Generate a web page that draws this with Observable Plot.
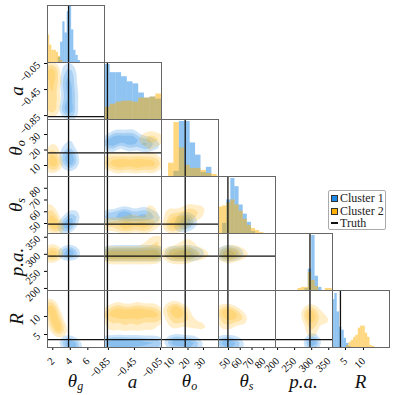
<!DOCTYPE html>
<html><head><meta charset="utf-8">
<script src="https://cdn.jsdelivr.net/npm/d3@7"></script>
<script src="https://cdn.jsdelivr.net/npm/@observablehq/plot@0.6"></script>
<style>
body{margin:0;background:#fff;}
#root{position:relative;width:395px;height:395px;overflow:hidden;}
.p{position:absolute;}
.p svg{overflow:visible;background:none;}
.lab{position:absolute;font-style:italic;font-size:19px;font-family:"Liberation Serif","DejaVu Serif",serif;color:#111;white-space:nowrap;line-height:1;}
.lab sub{font-size:12px;vertical-align:-3px;}
#legend{position:absolute;left:328px;top:190px;width:58px;height:40px;border:1px solid #aaa;border-radius:2px;font-family:"Liberation Serif",serif;font-size:12px;color:#222;box-sizing:border-box;padding:1px 0 0 2px;background:#fff;}
#legend div{height:12.5px;line-height:12.5px;white-space:nowrap;}
#legend span.sw{display:inline-block;width:7px;height:7px;border:1px solid #333;margin-right:2px;vertical-align:0px;box-sizing:border-box;}
#legend span.ln{display:inline-block;width:7px;height:2px;background:#111;margin-right:2px;vertical-align:3px;}
</style></head><body><div id="root"></div>
<script>
// parameters (columns / rows of the corner plot)
const paramLabels = ["<i>θ</i><sub><i>g</i></sub>","<i>a</i>","<i>θ</i><sub><i>o</i></sub>","<i>θ</i><sub><i>s</i></sub>","<i>p.a.</i>","<i>R</i>"];
const domains = [[1.4,7.9],[-0.91,-0.035],[2.9,39.7],[41.5,90],[194,361],[1.4,17.2]];
const tickValues = [[2,4,6],[-0.85,-0.45,-0.05],[10,20,30],[50,60,70,80],[200,250,300,350],[5,10]];
const truth = [3.8,-0.865,18.2,49.5,295,3.6];

// 1D histograms (diagonal): bin start, bin width, counts
const histStart = [1.4,-0.91,7.4,41.5,200,1.4];
const histWidth = [0.25,0.0875,3.5,3.5,10,0.65];
const hist1 = [
  [0,0,0,0,0,5,20,40,29,50,55,32,12,7,2],
  [54,46,46,42,37,35,26,21,22,20],
  [0,5,54,54,33,21,4,9,0],
  [0,10,33,54,46,28,19,11,2,0,0],
  [0,0,0,0,0,0,0,0,2,21,54,14,3,0,0,0],
  [47,53,35,20,17,9,4,1,0,0,0,0,0,0,0,0,0,0]
];
const hist2 = [
  [27,17,12,12,10,6,2,0,0,0,0,0,0,0,0],
  [12,15,17,18,18,17,21,21,22,25],
  [13,53,28,11,8,8,6,3,2],
  [26,27,30,33,28,22,14,8,5,3,1],
  [0,0,0,0,0,0,2,3,3,18,10,4,0,0,2,2],
  [0,0,0,0,0,0,2,5,7,10,12,19,21,21,14,10,2,1]
];

// 2D density anchors: [col, row, x, y, weight]
const cluster1Density = [
  [0,1,3.8,-0.1,1],[0,1,3.9,-0.2,1],[0,1,3.8,-0.3,1.2],[0,1,3.9,-0.4,1.2],[0,1,3.8,-0.5,1.2],[0,1,3.9,-0.6,1.3],[0,1,3.8,-0.7,1.3],[0,1,3.9,-0.8,1.4],[0,1,3.6,-0.35,0.6],[0,1,4.2,-0.55,0.6],[0,1,3.5,-0.75,0.6],[0,1,4.2,-0.85,0.6],
  [0,2,3.7,10,1],[0,2,4.1,11,1.2],[0,2,3.8,13,1.3],[0,2,4.2,15,1.2],[0,2,3.6,17,1.1],[0,2,4.0,19,1],[0,2,3.4,21,0.7],[0,2,3.9,24,0.6],[0,2,4.0,28,0.5],[0,2,4.0,31,0.3],[0,2,3.2,14,0.6],[0,2,4.6,13,0.5],
  [0,3,3.1,45,0.6],[0,3,3.3,47,0.9],[0,3,3.5,48.5,1.1],[0,3,3.7,50,1.2],[0,3,3.9,52,1.2],[0,3,4.1,54,1.1],[0,3,4.3,56,1],[0,3,4.5,58,0.8],[0,3,3.8,47,0.7],
  [0,4,3.2,303,0.8],[0,4,3.5,305,1],[0,4,3.8,306,1.2],[0,4,4.1,306,1.1],[0,4,4.4,305,0.8],[0,4,4.7,304,0.4],
  [0,5,3.3,3.2,0.6],[0,5,3.6,2.8,1],[0,5,3.9,2.4,1.2],[0,5,4.2,2.1,1.2],[0,5,4.5,2,0.9],[0,5,4.8,1.9,0.5],
  [1,2,-0.88,25,1],[1,2,-0.8,26,1.1],[1,2,-0.7,27,1.2],[1,2,-0.6,27,1.2],[1,2,-0.5,26,1.1],[1,2,-0.4,26,1],[1,2,-0.3,25,0.9],[1,2,-0.2,24,0.8],[1,2,-0.1,23,0.6],[1,2,-0.7,31,0.5],[1,2,-0.5,31,0.5],[1,2,-0.8,21,0.6],[1,2,-0.55,21,0.6],[1,2,-0.3,21,0.6],
  [1,3,-0.88,56,1],[1,3,-0.75,57,1.1],[1,3,-0.62,57,1.1],[1,3,-0.5,56,1],[1,3,-0.38,56,1],[1,3,-0.25,56,0.9],[1,3,-0.12,55,0.8],[1,3,-0.6,60,0.5],[1,3,-0.3,60,0.5],
  [1,4,-0.88,303,1],[1,4,-0.76,303,1],[1,4,-0.64,303,1],[1,4,-0.52,303,1],[1,4,-0.4,303,1],[1,4,-0.28,303,1],[1,4,-0.16,303,1],[1,4,-0.06,303,0.8],
  [1,5,-0.88,2.6,1],[1,5,-0.76,2.4,1.1],[1,5,-0.64,2.6,1.1],[1,5,-0.52,2.4,1],[1,5,-0.4,2.6,1],[1,5,-0.28,2.4,0.9],[1,5,-0.16,2.6,0.8],[1,5,-0.06,2.4,0.6],
  [2,3,14,47,0.8],[2,3,16,50,1],[2,3,18,52,1.1],[2,3,20,54,1],[2,3,22,52,0.8],[2,3,19,48,0.8],[2,3,24,50,0.5],[2,3,15,56,0.5],
  [2,4,8,303,0.7],[2,4,12,303,0.9],[2,4,16,303,1],[2,4,20,303,1],[2,4,24,303,0.8],[2,4,28,303,0.5],
  [2,5,8,3,0.7],[2,5,11,3,1],[2,5,14,2.8,1.1],[2,5,17,2.6,1.1],[2,5,20,2.4,1],[2,5,23,2.4,0.8],[2,5,26,2.2,0.6],[2,5,29,2.2,0.4],
  [3,4,44,303,0.9],[3,4,48,303,1],[3,4,52,303,1],[3,4,56,303,0.8],[3,4,60,303,0.5],
  [3,5,43,2.8,0.9],[3,5,46,2.6,1],[3,5,49,2.6,1.1],[3,5,52,2.4,1],[3,5,55,2.4,0.8],[3,5,58,2.2,0.6],[3,5,61,2.2,0.4],
  [4,5,300,3,1],[4,5,302,2.2,1],[4,5,305,3.5,0.6]
];
const cluster2Density = [
  [0,1,1.6,-0.1,1.4],[0,1,1.7,-0.2,1.4],[0,1,1.6,-0.3,1.3],[0,1,1.7,-0.4,1.2],[0,1,1.6,-0.5,1.1],[0,1,1.7,-0.6,1],[0,1,1.6,-0.7,1],[0,1,1.7,-0.8,0.9],[0,1,2.2,-0.15,0.8],[0,1,2.3,-0.35,0.8],[0,1,2.2,-0.55,0.7],[0,1,2.3,-0.75,0.7],[0,1,2.7,-0.3,0.4],[0,1,2.7,-0.6,0.4],
  [0,2,1.6,8,1],[0,2,1.7,11,1.3],[0,2,1.6,14,1.3],[0,2,1.7,17,1.2],[0,2,2.2,9,1],[0,2,2.3,12,1.1],[0,2,2.2,15,1],[0,2,2.4,19,0.8],[0,2,1.8,21,0.7],[0,2,2.0,25,0.5],[0,2,2.6,28,0.4],[0,2,2.7,12,0.6],
  [0,3,1.5,66,0.6],[0,3,1.6,62,1],[0,3,1.7,58,1.2],[0,3,1.8,55,1.3],[0,3,2.0,52,1.3],[0,3,2.2,50,1.2],[0,3,2.4,48,1],[0,3,2.6,46,0.8],[0,3,2.8,44.5,0.6],[0,3,1.6,52,0.8],[0,3,1.8,47,0.7],[0,3,2.1,44,0.5],
  [0,4,1.5,303,1],[0,4,1.8,304,1],[0,4,2.1,305,1],[0,4,2.4,304,0.9],[0,4,2.7,303,0.6],[0,4,1.6,287,0.6],[0,4,1.9,286,0.5],[0,4,1.8,322,0.3],[0,4,2.1,344,0.3],
  [0,5,1.5,13.5,0.8],[0,5,1.7,12.5,1],[0,5,1.9,11.3,1.1],[0,5,2.1,10,1.2],[0,5,2.3,8.8,1.2],[0,5,2.5,7.6,1.1],[0,5,2.7,6.4,0.9],[0,5,2.9,5.4,0.6],
  [1,2,-0.88,12,1.1],[1,2,-0.78,11,1.2],[1,2,-0.68,12,1.2],[1,2,-0.58,11,1.3],[1,2,-0.48,12,1.3],[1,2,-0.38,11,1.3],[1,2,-0.28,12,1.2],[1,2,-0.18,11,1.2],[1,2,-0.08,12,1.1],[1,2,-0.8,16,0.7],[1,2,-0.6,16,0.7],[1,2,-0.4,16,0.7],[1,2,-0.2,16,0.7],[1,2,-0.7,7,0.6],[1,2,-0.45,7,0.6],[1,2,-0.2,7,0.6],[1,2,-0.35,27,0.6],[1,2,-0.25,28,0.8],[1,2,-0.15,28,0.9],[1,2,-0.07,27,0.8],[1,2,-0.2,24,0.6],
  [1,3,-0.88,50,1],[1,3,-0.75,49,1.1],[1,3,-0.62,50,1.2],[1,3,-0.5,49,1.2],[1,3,-0.38,50,1.2],[1,3,-0.25,50,1.1],[1,3,-0.12,51,1],[1,3,-0.6,45,0.6],[1,3,-0.3,45,0.6],[1,3,-0.5,62,0.5],[1,3,-0.25,63,0.6],[1,3,-0.1,62,0.5],
  [1,4,-0.88,301,1],[1,4,-0.76,301,1],[1,4,-0.64,301,1],[1,4,-0.52,301,1],[1,4,-0.4,301,1],[1,4,-0.28,301,1],[1,4,-0.16,301,1],[1,4,-0.06,301,1],[1,4,-0.8,287,0.5],[1,4,-0.6,287,0.5],[1,4,-0.4,287,0.5],[1,4,-0.2,287,0.5],[1,4,-0.25,335,0.4],[1,4,-0.12,338,0.5],[1,4,-0.05,340,0.4],
  [1,5,-0.88,10.5,1],[1,5,-0.76,11,1.2],[1,5,-0.64,10.5,1.3],[1,5,-0.52,11,1.3],[1,5,-0.4,10.5,1.3],[1,5,-0.28,11,1.2],[1,5,-0.16,10.5,1.1],[1,5,-0.06,10,0.9],[1,5,-0.8,7.5,0.7],[1,5,-0.6,7.5,0.8],[1,5,-0.4,7.5,0.8],[1,5,-0.2,7.5,0.7],[1,5,-0.7,13,0.5],[1,5,-0.4,13,0.5],[1,5,-0.15,13,0.4],
  [2,3,7,50,0.9],[2,3,10,52,1.1],[2,3,13,53,1.2],[2,3,16,54,1.1],[2,3,19,55,1],[2,3,22,57,0.9],[2,3,25,59,0.7],[2,3,28,61,0.5],[2,3,10,47,0.8],[2,3,14,47,0.8],[2,3,8,58,0.6],[2,3,12,60,0.6],[2,3,18,62,0.5],[2,3,30,64,0.4],
  [2,3,6,61,0.5],[2,3,20,63,0.5],[2,3,24,64,0.4],[2,3,8,46,0.6],[2,3,18,50,0.8],[2,3,26,55,0.5],
  [2,4,6,301,0.9],[2,4,10,301,1],[2,4,14,301,1],[2,4,18,301,1],[2,4,22,301,0.9],[2,4,26,301,0.7],[2,4,30,301,0.5],[2,4,34,301,0.3],[2,4,12,286,0.5],[2,4,18,286,0.4],[2,4,18,337,0.4],[2,4,23,337,0.4],[2,4,16,325,0.3],
  [2,5,7,12,1],[2,5,10,12.5,1.2],[2,5,13,12,1.2],[2,5,16,11.5,1.1],[2,5,19,11,0.9],[2,5,9,9.5,1],[2,5,12,9,1],[2,5,15,9,0.9],[2,5,20,8.5,0.8],[2,5,24,8,0.7],[2,5,28,7.5,0.6],[2,5,32,7,0.5],[2,5,10,7,0.5],
  [3,4,43,301,0.9],[3,4,47,301,1],[3,4,51,301,1],[3,4,55,301,0.9],[3,4,59,301,0.7],[3,4,63,301,0.5],[3,4,67,301,0.3],[3,4,50,286,0.4],[3,4,55,318,0.3],
  [3,5,43,11,1],[3,5,46,11.5,1.1],[3,5,49,11,1.2],[3,5,52,11,1.1],[3,5,55,10.5,1],[3,5,58,10,0.8],[3,5,61,9.5,0.6],[3,5,64,9,0.4],[3,5,45,8,0.8],[3,5,49,8,0.8],[3,5,53,8,0.6],
  [4,5,285,11,0.7],[4,5,292,10,1],[4,5,298,11,1],[4,5,300,9,1.1],[4,5,298,7,1],[4,5,300,5,0.8],[4,5,303,12,0.7],[4,5,310,9,0.6],[4,5,335,11,0.5],[4,5,340,9,0.6],[4,5,345,8,0.4]
];

const seriesNames = ["Cluster 1","Cluster 2","Truth"];
const colors = ["#1e88e5","#ffb000","#111111"];

const X0 = 47, Y0 = 5, S = 57, N = 6;
const root = document.getElementById("root");
const fmt = d => d < 0 ? "\u2212" + String(Math.abs(d)) : String(d);

function histTable(k, counts) {
  return counts.map((c, b) => ({x1: histStart[k] + b*histWidth[k], x2: histStart[k] + (b+1)*histWidth[k], y: c}));
}

for (let j = 0; j < N; j++) {
  for (let i = 0; i <= j; i++) {
    const showY = i === 0 && j > 0, showX = j === N - 1;
    const mL = showY ? 40 : 0, mB = showX ? 40 : 0;
    const marks = [];
    let yDomain;
    if (i === j) {
      yDomain = [0, 56];
      marks.push(Plot.rectY(histTable(i, hist1[i]), {x1: "x1", x2: "x2", y: "y", fill: colors[0], fillOpacity: 0.5, clip: true}));
      marks.push(Plot.rectY(histTable(i, hist2[i]), {x1: "x1", x2: "x2", y: "y", fill: colors[1], fillOpacity: 0.5, clip: true}));
      marks.push(Plot.ruleX([truth[i]], {stroke: colors[2], strokeWidth: 1.3}));
    } else {
      yDomain = domains[j];
      [cluster1Density, cluster2Density].forEach((arr, c) => {
        const pts = arr.filter(d => d[0] === i && d[1] === j);
        marks.push(Plot.density(pts, {x: d => d[2], y: d => d[3], weight: d => d[4], bandwidth: 2.3, thresholds: 4, fill: colors[c], fillOpacity: 0.22, stroke: "none", clip: true}));
      });
      marks.push(Plot.ruleX([truth[i]], {stroke: colors[2], strokeWidth: 1.3}));
      marks.push(Plot.ruleY([truth[j]], {stroke: colors[2], strokeWidth: 1.3}));
    }
    marks.push(Plot.frame({stroke: "#666", strokeWidth: 1}));
    const p = Plot.plot({
      width: S + mL, height: S + mB,
      marginLeft: mL, marginBottom: mB, marginTop: 0, marginRight: 0,
      x: {domain: domains[i], axis: showX ? "bottom" : null, ticks: tickValues[i], tickFormat: fmt, tickRotate: -45, tickSize: 3, label: null},
      y: {domain: yDomain, axis: showY ? "left" : null, ticks: showY ? tickValues[j] : [], tickFormat: fmt, tickRotate: -45, tickSize: 3, label: null},
      style: {fontFamily: "'Liberation Serif', serif", fontSize: "10.5px", background: "none", overflow: "visible"},
      marks
    });
    const div = document.createElement("div");
    div.className = "p";
    div.style.left = (X0 + i*S - mL) + "px";
    div.style.top = (Y0 + j*S) + "px";
    div.appendChild(p);
    root.appendChild(div);
  }
}

// axis titles
for (let k = 0; k < N; k++) {
  const b = document.createElement("div");
  b.className = "lab";
  b.innerHTML = paramLabels[k];
  b.style.left = (X0 + k*S + S/2) + "px";
  b.style.top = "381px";
  b.style.transform = "translate(-50%,-50%)";
  root.appendChild(b);
  if (k > 0) {
    const l = document.createElement("div");
    l.className = "lab";
    l.innerHTML = paramLabels[k];
    l.style.left = "16px";
    l.style.top = (Y0 + k*S + S/2) + "px";
    l.style.transform = "translate(-50%,-50%) rotate(-90deg)";
    root.appendChild(l);
  }
}

// legend
const lg = document.createElement("div");
lg.id = "legend";
lg.innerHTML = seriesNames.map((n, k) => k < 2
  ? `<div><span class="sw" style="background:${colors[k]}"></span>${n}</div>`
  : `<div><span class="ln"></span>${n}</div>`).join("");
root.appendChild(lg);
</script></body></html>
